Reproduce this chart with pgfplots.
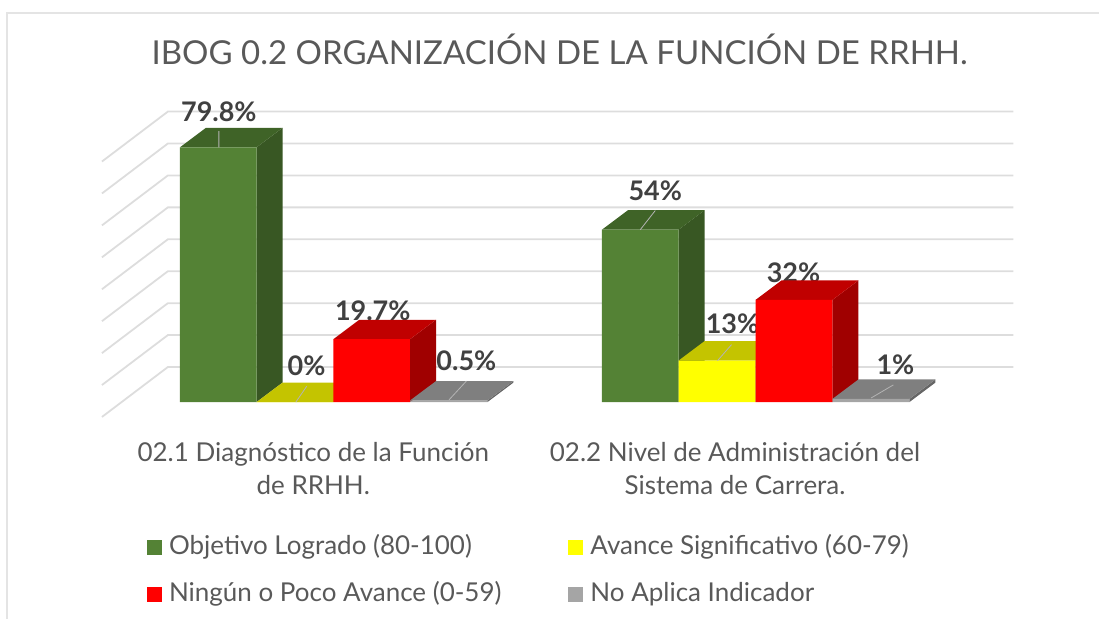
\documentclass[border=0pt]{standalone}
\usepackage{fontspec}
\setmainfont{Lato}
\usepackage{pgfplots}
\pgfplotsset{compat=1.18}
\definecolor{gridc}{HTML}{DDDDDD}
\definecolor{framec}{HTML}{E4E4E4}
\definecolor{txt}{HTML}{595959}
\definecolor{lab}{HTML}{404040}
\definecolor{lead}{HTML}{B4B4B4}
\definecolor{gF}{HTML}{548235}\definecolor{gT}{HTML}{3F6327}\definecolor{gS}{HTML}{385723}
\definecolor{yF}{HTML}{FFFF00}\definecolor{yT}{HTML}{C4C400}\definecolor{yS}{HTML}{A0A000}
\definecolor{rF}{HTML}{FF0000}\definecolor{rT}{HTML}{C00000}\definecolor{rS}{HTML}{A00000}
\definecolor{aF}{HTML}{A5A5A5}\definecolor{aT}{HTML}{7F7F7F}\definecolor{aS}{HTML}{666666}
% side and top faces of a bar: left x, right x, value, top colour, side colour
\newcommand\faces[5]{%
  \pgfmathsetmacro\xa{#1+26}\pgfmathsetmacro\xb{#2+26}\pgfmathsetmacro\vb{#3+6.1}%
  \edef\temp{\noexpand\addplot[forget plot,fill=#5,draw=none] coordinates {(#2,0)(\xb,6.1)(\xb,\vb)(#2,#3)} --cycle;
  \noexpand\addplot[forget plot,fill=#4,draw=none] coordinates {(#1,#3)(\xa,\vb)(\xb,\vb)(#2,#3)} --cycle;}\temp}
\newcommand\lab[4][]{\node[anchor=base,inner sep=0,text=lab,font=\fontsize{27}{27}\selectfont\bfseries] at (axis cs:#2,#3) {#4};}
\begin{document}
\begin{tikzpicture}
\begin{axis}[
  scale only axis, width=1100pt, height=619pt,
  xmin=0, xmax=1100, ymin=-67.82, ymax=125.92,
  clip=false,
  axis line style={draw=none}, major tick length=0pt,
  ytick=\empty,
  xtick={313.5,735.5},
  xticklabels={{02.1 Diagnóstico de la Función\\de RRHH.},{02.2 Nivel de Administración del\\Sistema de Carrera.}},
  x tick label style={align=center,text=txt,font=\fontsize{26}{33.5}\selectfont,anchor=north,yshift=177pt,inner sep=0pt},
  legend columns=2,
  legend style={draw=none,fill=none,at={(axis description cs:0.1336,0.1373)},anchor=north west,inner sep=0pt,
    font=\fontsize{26}{26}\selectfont,text=txt,
    /tikz/every even column/.append style={column sep=67pt},
    /tikz/column sep=0pt,row sep=26pt,nodes={inner sep=0pt,anchor=base west}},
  legend cell align=left,
  legend image code/.code={\fill[#1] (0pt,-0.5pt) rectangle (15pt,14.5pt);\path (22pt,0pt);},
]
% chart frame
\addplot[forget plot,framec,line width=1.5pt] coordinates {(7,-67.82)(7,121.85)(1100,121.85)};
% wall grid
\addplot[forget plot,gridc,line width=1.8pt,unbounded coords=jump] coordinates {
 (102,-4.65)(168,11)(1014,11)(102,nan)
 (102,5.35)(168,21)(1014,21)(102,nan)
 (102,15.35)(168,31)(1014,31)(102,nan)
 (102,25.35)(168,41)(1014,41)(102,nan)
 (102,35.35)(168,51)(1014,51)(102,nan)
 (102,45.35)(168,61)(1014,61)(102,nan)
 (102,55.35)(168,71)(1014,71)(102,nan)
 (102,65.35)(168,81)(1014,81)(102,nan)
 (102,75.35)(168,91)(1014,91)};
% title and data labels
\node[anchor=base,inner sep=0,text=txt,font=\fontsize{33}{33}\selectfont] at (axis cs:560,105.6) {IBOG 0.2 ORGANIZACIÓN DE LA FUNCIÓN DE RRHH.};
\lab{219}{88.0}{79.8\%}
\lab{306.7}{8.3}{0\%}
\lab{373}{25.5}{19.7\%}
\lab{466.7}{9.9}{0.5\%}
\lab{655.7}{63.3}{54\%}
\lab{733}{21.4}{13\%}
\lab{794}{37.4}{32\%}
\lab{896}{8.5}{1\%}
% Objetivo Logrado
\faces{180}{256.7}{79.8}{gT}{gS}
\faces{602.3}{679}{54}{gT}{gS}
\addplot[ybar,bar width=76.7,bar shift=0pt,fill=gF,draw=none] coordinates {(218.35,79.8)(640.65,54)};
\addlegendentry{Objetivo Logrado (80-100)}
% Avance Significativo
\faces{256.7}{333.5}{0}{yT}{yS}
\faces{679}{756}{13}{yT}{yS}
\addplot[ybar,bar width=76.7,bar shift=0pt,fill=yF,draw=none] coordinates {(295.1,0)(717.5,13)};
\addlegendentry{Avance Significativo (60-79)}
% Ningun o Poco Avance
\faces{333.5}{410.3}{19.7}{rT}{rS}
\faces{756}{833}{32}{rT}{rS}
\addplot[ybar,bar width=76.7,bar shift=0pt,fill=rF,draw=none] coordinates {(371.9,19.7)(794.5,32)};
\addlegendentry{Ningún o Poco Avance (0-59)}
% No Aplica Indicador
\faces{410.3}{487.7}{0.5}{aT}{aS}
\faces{833}{910}{1}{aT}{aS}
\addplot[ybar,bar width=76.7,bar shift=0pt,fill=aF,draw=none] coordinates {(449,0.5)(871.5,1)};
\addlegendentry{No Aplica Indicador}
% leader lines
\addplot[forget plot,lead,line width=0.8pt,unbounded coords=jump] coordinates {
 (219,79.8)(219,84.9)(219,nan)
 (296,0)(307,5)(307,nan)
 (449.3,0.7)(466.7,6.6)(466.7,nan)
 (640.7,54)(655.7,60)(655.7,nan)
 (718,13)(732,18)(732,nan)
 (871.7,1.3)(894,5.4)};
\end{axis}
\end{tikzpicture}
\end{document}
